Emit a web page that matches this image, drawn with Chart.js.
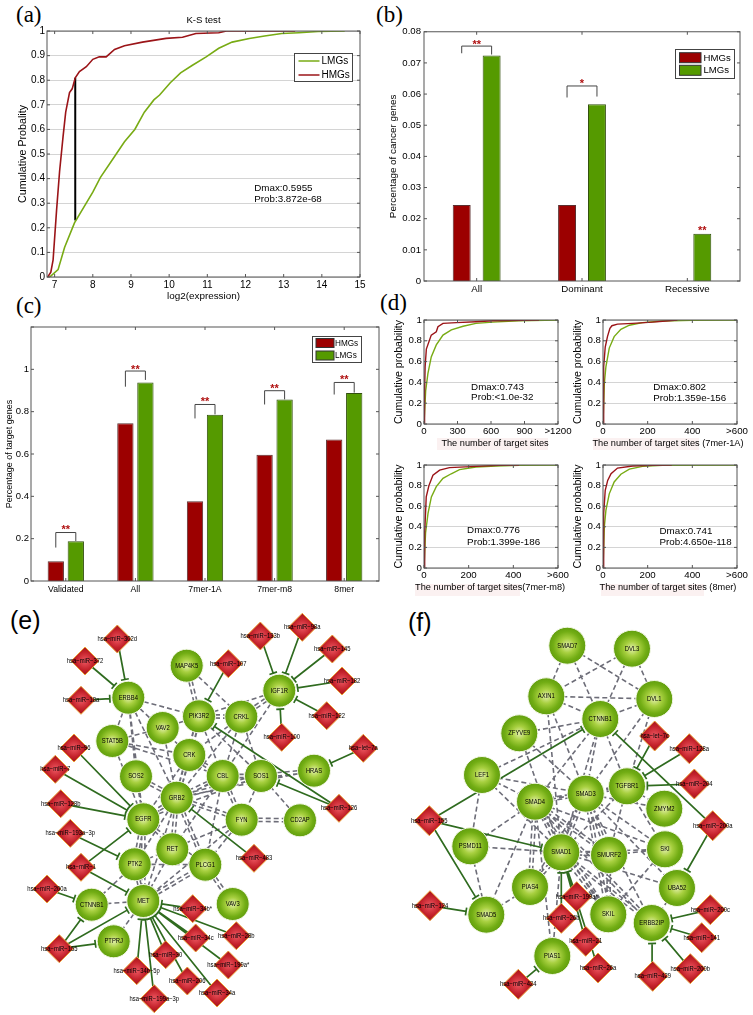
<!DOCTYPE html>
<html>
<head>
<meta charset="utf-8">
<title>Figure</title>
<script src="https://cdn.jsdelivr.net/npm/chart.js@4"></script>
<style>
	html, body { margin: 0; padding: 0; background: #fff; }
	#page { position: relative; width: 753px; height: 1015px; overflow: hidden; }
	#page canvas { position: absolute; }
	.tag { position: absolute; line-height: 1; color: #000; }
	.serif { font: 23px "Liberation Serif", serif; }
	.sans { font: 25px "Liberation Sans", sans-serif; }
	.hilite { position: absolute; background: #fbf1f1; }
</style>
</head>
<body>
<div id="page">
	<div class="hilite" style="left:437px;top:438px;width:111px;height:12px"></div>
	<div class="hilite" style="left:593px;top:438px;width:106px;height:12px"></div>
	<div class="hilite" style="left:415px;top:584px;width:105px;height:12px"></div>
	<div class="hilite" style="left:601px;top:584px;width:103px;height:12px"></div>
	<div class="tag serif" style="left:16px;top:2px">(a)</div>
	<div class="tag serif" style="left:376px;top:2px">(b)</div>
	<div class="tag serif" style="left:16px;top:293px">(c)</div>
	<div class="tag serif" style="left:380px;top:290px">(d)</div>
	<div class="tag sans" style="left:10px;top:606px">(e)</div>
	<div class="tag sans" style="left:408px;top:608px">(f)</div>
</div>
<script>
// panel (a)
const aLmgX = [6.87, 7.09, 7.26, 7.52, 8.0, 8.2, 8.57, 8.83, 9.1, 9.35, 9.6, 9.75, 10.03, 10.3, 10.6, 10.97, 11.3, 11.65, 12.1, 12.5, 12.95, 13.4, 13.9, 14.6];
const aLmgY = [0, 0.03, 0.12, 0.22, 0.345, 0.405, 0.49, 0.55, 0.6, 0.67, 0.72, 0.74, 0.79, 0.83, 0.86, 0.895, 0.93, 0.955, 0.97, 0.98, 0.99, 0.993, 0.998, 1];
const aHmgX = [6.82, 6.9, 6.96, 7.05, 7.13, 7.22, 7.29, 7.39, 7.46, 7.54, 7.65, 7.83, 8.0, 8.17, 8.35, 8.57, 8.83, 9.3, 9.92, 10.35, 10.7, 11.3, 11.5, 13.3];
const aHmgY = [0, 0.02, 0.07, 0.27, 0.43, 0.57, 0.67, 0.75, 0.765, 0.81, 0.835, 0.855, 0.885, 0.895, 0.895, 0.925, 0.94, 0.955, 0.97, 0.975, 0.99, 0.993, 1, 1];
const aDmaxX = [7.54, 7.54];
const aDmaxY = [0.23, 0.81];

// panel (b)
const bCats = ["All", "Dominant", "Recessive"];
const bHmg = [0.0244, 0.0244, 0];
const bLmg = [0.0724, 0.0567, 0.0152];
const bTop = [0.0754, 0.0626, null];
const bLowL = [0.0731, 0.0589, null];
const bLowR = [0.0727, 0.0592, null];
const bStarY = [0.0763, 0.064, 0.0167];
const bStars = ["**", "*", "**"];

// panel (c)
const cCats = ["Validated", "All", "7mer-1A", "7mer-m8", "8mer"];
const cHmg = [0.093, 0.745, 0.377, 0.597, 0.668];
const cLmg = [0.188, 0.938, 0.785, 0.858, 0.888];
const cTop = [0.229, 0.992, 0.834, 0.899, 0.938];
const cLowL = [0.158, 0.918, 0.768, 0.834, 0.881];
const cLowR = [0.189, 0.95, 0.787, 0.858, 0.89];
const cStarY = [0.249, 1.007, 0.856, 0.918, 0.957];
const cStars = ["**", "**", "**", "**", "**"];

// panel (d)
const d1HmgX = [0, 5, 10, 21, 65, 110, 125, 170, 290, 465, 615, 763, 1030];
const d1HmgY = [0, 0.3, 0.55, 0.72, 0.855, 0.887, 0.935, 0.968, 0.975, 0.983, 0.993, 0.994, 1];
const d1LmgX = [0, 15, 35, 65, 110, 170, 245, 350, 465, 615, 850, 1200];
const d1LmgY = [0, 0.32, 0.485, 0.645, 0.76, 0.855, 0.905, 0.94, 0.968, 0.98, 0.993, 1];
const d2HmgX = [0, 3, 10, 20, 31, 40, 65, 133, 222, 281, 333];
const d2HmgY = [0, 0.55, 0.74, 0.84, 0.92, 0.945, 0.96, 0.968, 0.98, 0.99, 1];
const d2LmgX = [0, 6, 13, 28, 50, 80, 118, 177, 266, 400, 600];
const d2LmgY = [0, 0.39, 0.55, 0.73, 0.84, 0.91, 0.95, 0.975, 0.99, 0.998, 1];
const d3HmgX = [0, 3, 10, 22, 40, 70, 114, 233, 337, 426];
const d3HmgY = [0, 0.34, 0.69, 0.8, 0.9, 0.95, 0.975, 0.987, 0.997, 1];
const d3LmgX = [0, 7, 18, 33, 55, 85, 122, 159, 233, 322, 426, 600];
const d3LmgY = [0, 0.34, 0.53, 0.69, 0.79, 0.87, 0.915, 0.955, 0.98, 0.99, 0.998, 1];
const d4HmgX = [0, 3, 10, 21, 36, 65, 133, 222, 308];
const d4HmgY = [0, 0.53, 0.755, 0.85, 0.915, 0.97, 0.99, 0.997, 1];
const d4LmgX = [0, 6, 13, 28, 50, 80, 118, 177, 266, 600];
const d4LmgY = [0, 0.4, 0.56, 0.72, 0.835, 0.91, 0.96, 0.987, 0.997, 1];

// panel (e), network laid out in picture units
const eGenes = ["ERBB4", "MAP4K5", "PIK3R2", "VAV2", "STAT5B", "CRK", "SOS2", "GRB2", "IGF1R", "CRKL", "CBL", "SOS1", "HRAS", "EGFR", "RET", "PTK2", "CTNNB1", "MET", "PTPRJ", "PLCG1", "FYN", "CD2AP", "VAV3"];
const eGeneX = [128.3, 186.7, 199, 162.7, 112.3, 189.3, 136, 176.7, 279.3, 241.3, 222.7, 261, 314, 143.3, 172.3, 134.7, 91.7, 143.3, 113.7, 205.3, 241.7, 300, 232.7];
const eGeneY = [697.7, 665.7, 716.3, 728, 741, 755, 776.3, 797.7, 690.7, 716.7, 776, 776, 770.7, 819.3, 849.3, 864.3, 904.7, 901, 941.3, 864.7, 819.7, 820.3, 904];
const eMirs = ["miR-302d", "miR-372", "miR-18a", "miR-96", "miR-7", "miR-128b", "miR-107", "miR-133b", "miR-98a", "miR-145", "miR-182", "miR-122", "miR-100", "let-7a", "miR-126", "miR-193a-3p", "miR-1", "miR-200a", "miR-155", "miR-34b-5p", "miR-199a-3p", "miR-30", "miR-206", "miR-483", "miR-34b*", "miR-34c", "miR-28b", "miR-199a*", "miR-34a"];
const eMirX = [117.3, 85, 81, 74, 55.3, 60.7, 228.3, 260.3, 302.3, 332.3, 342, 326.7, 281.7, 363.3, 339, 70.3, 81, 47, 59.3, 136.7, 154.3, 165.7, 187.3, 254, 192.7, 195.7, 236.3, 228.3, 217];
const eMirY = [639, 661, 700.3, 748, 769.3, 803.7, 663.7, 636, 627.3, 649, 681, 715.7, 737.3, 748.3, 808.3, 833.3, 867.3, 889, 948.7, 970.7, 998.7, 954.7, 981, 858.3, 908.7, 938, 935.7, 965, 993];
const eLinks = [
	["miR-302d", "ERBB4"], ["miR-372", "ERBB4"], ["miR-18a", "ERBB4"], ["miR-96", "EGFR"], ["miR-7", "EGFR"],
	["miR-128b", "EGFR"], ["miR-193a-3p", "PTK2"], ["miR-1", "EGFR"], ["miR-1", "MET"], ["miR-200a", "CTNNB1"],
	["miR-155", "CTNNB1"], ["miR-155", "MET"], ["miR-155", "PTPRJ"], ["miR-34b-5p", "MET"], ["miR-199a-3p", "MET"],
	["miR-30", "MET"], ["miR-206", "MET"], ["miR-34a", "MET"], ["miR-199a*", "MET"], ["miR-28b", "MET"],
	["miR-34b*", "MET"], ["miR-34c", "MET"], ["miR-107", "PIK3R2"], ["miR-133b", "IGF1R"], ["miR-98a", "IGF1R"],
	["miR-145", "IGF1R"], ["miR-182", "IGF1R"], ["miR-122", "IGF1R"], ["miR-100", "IGF1R"], ["let-7a", "HRAS"],
	["miR-126", "PIK3R2"], ["miR-126", "SOS1"], ["miR-483", "GRB2"]
];
const ePpi = [
	["ERBB4", "PIK3R2"], ["ERBB4", "STAT5B"], ["ERBB4", "SOS2"], ["ERBB4", "CRK"], ["ERBB4", "GRB2"], ["ERBB4", "EGFR"],
	["MAP4K5", "CRKL"], ["IGF1R", "PIK3R2"], ["IGF1R", "CBL"], ["PIK3R2", "VAV2"], ["PIK3R2", "CBL"], ["PIK3R2", "SOS1"],
	["CRKL", "CRK"], ["CRKL", "GRB2"], ["CRKL", "CBL"], ["CRKL", "SOS1"], ["VAV2", "STAT5B"], ["VAV2", "GRB2"],
	["STAT5B", "CRK"], ["STAT5B", "CBL"], ["STAT5B", "EGFR"], ["SOS2", "EGFR"], ["CRK", "EGFR"], ["CBL", "EGFR"],
	["CBL", "PLCG1"], ["CBL", "RET"], ["SOS1", "EGFR"], ["SOS1", "FYN"], ["GRB2", "PTK2"], ["GRB2", "MET"],
	["FYN", "PLCG1"], ["FYN", "MET"], ["FYN", "PTK2"], ["EGFR", "RET"], ["EGFR", "PLCG1"], ["RET", "MET"],
	["PTK2", "PLCG1"], ["PTK2", "CTNNB1"], ["MET", "CTNNB1"], ["MET", "PTPRJ"], ["HRAS", "GRB2"], ["CD2AP", "SOS1"]
];
const ePpiDouble = [
	["MAP4K5", "PIK3R2"], ["IGF1R", "CRKL"], ["PIK3R2", "CRKL"], ["PIK3R2", "CRK"], ["PIK3R2", "GRB2"], ["SOS2", "GRB2"],
	["CRK", "GRB2"], ["CRK", "CBL"], ["CBL", "GRB2"], ["CBL", "SOS1"], ["CBL", "FYN"], ["SOS1", "GRB2"], ["SOS1", "HRAS"],
	["GRB2", "EGFR"], ["GRB2", "RET"], ["GRB2", "PLCG1"], ["GRB2", "FYN"], ["FYN", "CD2AP"], ["EGFR", "PTK2"],
	["EGFR", "MET"], ["PTK2", "MET"], ["MET", "PLCG1"], ["PLCG1", "VAV3"]
];

// panel (f)
const fGenes = ["SMAD7", "DVL3", "AXIN1", "DVL1", "ZFYVE9", "CTNNB1", "LEF1", "SMAD4", "SMAD3", "TGFBR1", "ZMYM2", "PSMD11", "SMAD1", "SMURF2", "SKI", "PIAS4", "UBA52", "SMAD5", "SKIL", "ERBB2IP", "PIAS1"];
const fGeneX = [567.3, 632, 546.3, 654.3, 519.3, 600.3, 482, 535, 585.7, 627, 664.3, 470.3, 561.3, 609, 665, 530, 677, 486.3, 608.3, 651.7, 552.3];
const fGeneY = [645.7, 648.7, 696.3, 699, 733.3, 719, 775, 801.7, 793.7, 786.3, 808.7, 846.3, 852.3, 855, 849.3, 887, 888, 914.7, 914.3, 923, 956];
const fMirs = ["let-7c", "miR-128a", "miR-204", "miR-155", "miR-200a", "miR-124", "miR-199a*", "miR-26b", "miR-21", "miR-26a", "miR-424", "miR-200c", "miR-141", "miR-200b", "miR-429"];
const fMirX = [654.7, 689.3, 694.3, 429.3, 712.7, 430, 576.7, 561.3, 585.7, 598, 518.3, 710.3, 701.7, 690.3, 652.7];
const fMirY = [736, 748.7, 784, 820.7, 825.7, 905.7, 896.7, 918.3, 941.3, 968, 984.3, 909.7, 937.7, 968.7, 976.3];
const fLinks = [
	["let-7c", "TGFBR1"], ["miR-128a", "TGFBR1"], ["miR-204", "TGFBR1"], ["miR-155", "CTNNB1"], ["miR-155", "SMAD1"],
	["miR-155", "SMAD5"], ["miR-124", "SMAD5"], ["miR-424", "PIAS1"], ["miR-200a", "CTNNB1"], ["miR-200a", "UBA52"],
	["miR-200c", "ERBB2IP"], ["miR-141", "ERBB2IP"], ["miR-200b", "ERBB2IP"], ["miR-429", "ERBB2IP"], ["miR-199a*", "SMAD1"],
	["miR-26b", "SMAD1"], ["miR-21", "SMAD1"], ["miR-26a", "SMAD1"]
];
const fPpi = [
	["SMAD7", "AXIN1"], ["SMAD7", "CTNNB1"], ["SMAD7", "DVL1"], ["DVL3", "AXIN1"], ["DVL3", "CTNNB1"], ["DVL3", "DVL1"],
	["AXIN1", "DVL1"], ["AXIN1", "CTNNB1"], ["AXIN1", "SMAD3"], ["AXIN1", "SMAD1"], ["ZFYVE9", "CTNNB1"], ["ZFYVE9", "SMAD3"],
	["ZFYVE9", "SMAD1"], ["LEF1", "CTNNB1"], ["LEF1", "SMAD4"], ["LEF1", "SMAD3"], ["LEF1", "SMAD1"], ["LEF1", "PSMD11"],
	["DVL1", "CTNNB1"], ["DVL1", "TGFBR1"], ["DVL1", "SMAD3"], ["CTNNB1", "SMAD3"], ["CTNNB1", "SMAD4"], ["CTNNB1", "TGFBR1"],
	["CTNNB1", "SMAD1"], ["TGFBR1", "SMAD4"], ["TGFBR1", "ZMYM2"], ["TGFBR1", "SMAD1"], ["TGFBR1", "SMURF2"], ["TGFBR1", "SKI"],
	["SMAD3", "SKI"], ["SMAD3", "ZMYM2"], ["SMAD3", "PIAS4"], ["SMAD3", "UBA52"], ["SMAD3", "ERBB2IP"], ["SMAD4", "PSMD11"],
	["SMAD4", "SKI"], ["SMAD4", "SMAD5"], ["SMAD4", "PIAS1"], ["SMAD1", "PSMD11"], ["SMAD1", "SKI"], ["SMAD1", "PIAS1"],
	["SMAD1", "UBA52"], ["PSMD11", "SMAD5"], ["PIAS4", "SMAD5"], ["SMURF2", "SKI"], ["SKIL", "SKI"], ["UBA52", "ERBB2IP"]
];
const fPpiDouble = [
	["TGFBR1", "SMAD3"], ["SMAD3", "SMAD4"], ["SMAD3", "SMAD1"], ["SMAD3", "SMURF2"], ["SMAD3", "SKIL"], ["SMAD4", "SMAD1"],
	["SMAD4", "SMURF2"], ["SMAD4", "PIAS4"], ["SMAD4", "SKIL"], ["SMAD4", "ERBB2IP"], ["SMAD1", "PIAS4"], ["SMAD1", "SMURF2"],
	["SMAD1", "SKIL"], ["SMAD1", "ERBB2IP"], ["SMURF2", "SKIL"]
];

const dTitles = ["The number of target sites", "The number of target sites (7mer-1A)", "The number of target sites(7mer-m8)", "The number of target sites (8mer)"];

const RED = "#9b1418", GREEN = "#78ab14", BAR_RED = "#9c0000", BAR_GREEN = "#559a00";
Chart.defaults.font.family = '"Liberation Sans", Arial, sans-serif';
Chart.defaults.color = "#000";
Chart.defaults.animation = false;

function zip(xs, ys) {
	return xs.map((x, i) => ({ x: x, y: ys[i] }));
}

// box and inward ticks, the way Matlab draws its axes
const frame = {
	id: "frame",
	afterDraw(chart) {
		const { ctx, chartArea: a, scales } = chart;
		ctx.save();
		ctx.strokeStyle = "#555";
		ctx.lineWidth = 1;
		ctx.strokeRect(a.left, a.top, a.right - a.left, a.bottom - a.top);
		ctx.beginPath();
		scales.x.ticks.forEach((t, i) => {
			const p = scales.x.getPixelForTick(i);
			ctx.moveTo(p, a.top); ctx.lineTo(p, a.top + 3);
			ctx.moveTo(p, a.bottom); ctx.lineTo(p, a.bottom - 3);
		});
		scales.y.ticks.forEach((t, i) => {
			const p = scales.y.getPixelForTick(i);
			ctx.moveTo(a.left, p); ctx.lineTo(a.left + 3, p);
			ctx.moveTo(a.right, p); ctx.lineTo(a.right - 3, p);
		});
		ctx.stroke();
		ctx.restore();
	}
};

const notes = {
	id: "notes",
	afterDraw(chart, args, opts) {
		const { ctx, scales, chartArea } = chart;
		ctx.save();
		ctx.fillStyle = "#000";
		ctx.font = `${opts.size}px "Liberation Sans"`;
		ctx.textBaseline = "middle";
		(opts.lines || []).forEach(l => ctx.fillText(l[2], scales.x.getPixelForValue(l[0]), scales.y.getPixelForValue(l[1])));
		// x label of panel (d) is wider than its axes, so it is not the scale title
		if (opts.under) {
			ctx.font = `${opts.underSize}px "Liberation Sans"`;
			ctx.textAlign = "center";
			ctx.fillText(opts.under, scales.x.getPixelForValue(opts.underX), chartArea.bottom + 19);
		}
		ctx.restore();
	}
};

// significance brackets over the bars
const brackets = {
	id: "brackets",
	afterDraw(chart, args, opts) {
		if (!opts.stars) return;
		const { ctx, scales } = chart;
		const m0 = chart.getDatasetMeta(0), m1 = chart.getDatasetMeta(1);
		ctx.save();
		opts.stars.forEach((s, i) => {
			const xl = m0.data[i].x, xr = m1.data[i].x;
			if (opts.top[i] !== null) {
				ctx.strokeStyle = "#444";
				ctx.lineWidth = 1;
				ctx.beginPath();
				ctx.moveTo(xl, scales.y.getPixelForValue(opts.lowL[i]));
				ctx.lineTo(xl, scales.y.getPixelForValue(opts.top[i]));
				ctx.lineTo(xr, scales.y.getPixelForValue(opts.top[i]));
				ctx.lineTo(xr, scales.y.getPixelForValue(opts.lowR[i]));
				ctx.stroke();
			}
			ctx.fillStyle = "#b01010";
			ctx.font = 'bold 11px "Liberation Sans"';
			ctx.textAlign = "center";
			ctx.textBaseline = "middle";
			const x = opts.top[i] !== null ? (xl + xr) / 2 : xr;
			ctx.fillText(s, x, scales.y.getPixelForValue(opts.starY[i]) + 2);
		});
		ctx.restore();
	}
};

// legend box placed inside the axes; labels and colours come from the datasets
const legendBox = {
	id: "legendBox",
	afterDraw(chart, args, opts) {
		if (!opts.box) return;
		const { ctx } = chart;
		const cv = chart.canvas.getBoundingClientRect();
		const page = chart.canvas.parentNode.getBoundingClientRect();
		const ox = cv.left - page.left, oy = cv.top - page.top;
		const [x0, y0, x1, y1] = opts.box;
		ctx.save();
		ctx.translate(-ox, -oy);
		ctx.fillStyle = "#fff";
		ctx.fillRect(x0, y0, x1 - x0, y1 - y0);
		ctx.strokeStyle = "#444";
		ctx.strokeRect(x0, y0, x1 - x0, y1 - y0);
		opts.order.forEach((d, i) => {
			const ds = chart.data.datasets[d];
			const yc = opts.rowY[i];
			if (opts.lines) {
				ctx.strokeStyle = ds.borderColor;
				ctx.lineWidth = 1.5;
				ctx.beginPath();
				ctx.moveTo(opts.swatch[0], yc);
				ctx.lineTo(opts.swatch[1], yc);
				ctx.stroke();
			} else {
				ctx.fillStyle = ds.backgroundColor;
				ctx.fillRect(opts.swatch[0], yc - opts.swatchH / 2, opts.swatch[1] - opts.swatch[0], opts.swatchH);
				ctx.strokeStyle = "#333";
				ctx.lineWidth = 1;
				ctx.strokeRect(opts.swatch[0], yc - opts.swatchH / 2, opts.swatch[1] - opts.swatch[0], opts.swatchH);
			}
			ctx.fillStyle = "#000";
			ctx.font = `${opts.size}px "Liberation Sans"`;
			ctx.textBaseline = "middle";
			ctx.fillText(ds.label, opts.textX, yc + 0.5);
		});
		ctx.restore();
	}
};

// plot rectangle is given in page pixels, margins hold the axes
function addChart(plot, m, config) {
	const [L, T, R, B] = plot;
	const c = document.createElement("canvas");
	const w = Math.round(R - L + m.l + m.r), h = Math.round(B - T + m.t + m.b);
	c.width = w; c.height = h;
	c.style.cssText = `left:${L - m.l}px;top:${T - m.t}px;width:${w}px;height:${h}px`;
	document.getElementById("page").appendChild(c);
	const o = config.options;
	o.responsive = false;
	o.events = [];
	o.layout = { padding: { top: o.plugins.title ? 0 : m.t, right: m.r, left: 0, bottom: 0 } };
	o.scales.x.afterFit = s => { s.height = m.b; };
	o.scales.y.afterFit = s => { s.width = m.l; };
	o.plugins.legend = { display: false };
	o.plugins.tooltip = { enabled: false };
	config.plugins = [frame, notes, brackets, legendBox];
	return new Chart(c, config);
}

function curve(label, color, xs, ys, width) {
	return { label: label, data: zip(xs, ys), showLine: true, pointRadius: 0, borderColor: color, borderWidth: width, tension: 0 };
}

function plain(v) {
	return String(+Number(v).toFixed(2));
}

// panel (a)
addChart([47, 31, 360, 277], { l: 30, t: 24, r: 16, b: 25 }, {
	type: "scatter",
	data: {
		datasets: [
			curve("LMGs", GREEN, aLmgX, aLmgY, 1.6),
			curve("HMGs", RED, aHmgX, aHmgY, 1.6),
			curve("Dmax", "#000", aDmaxX, aDmaxY, 2)
		]
	},
	options: {
		plugins: {
			title: { display: true, text: "K-S test", fullSize: false, font: { size: 9.6, weight: "normal", lineHeight: 1.15 }, padding: { top: 8, bottom: 5 } },
			notes: { size: 9.8, lines: [[12.23, 0.362, "Dmax:0.5955"], [12.23, 0.316, "Prob:3.872e-68"]] },
			legendBox: { box: [294.5, 53.5, 352.5, 81.5], order: [0, 1], lines: true, swatch: [298.5, 319.5], rowY: [61, 75], textX: 321.5, size: 10 }
		},
		scales: {
			x: {
				type: "linear", min: 6.8, max: 15, grid: { display: false, drawTicks: false }, border: { display: false },
				ticks: { stepSize: 1, includeBounds: false, padding: 2, font: { size: 10 }, callback: plain },
				title: { display: true, text: "log2(expression)", padding: 0, font: { size: 9.9 } }
			},
			y: {
				min: 0, max: 1, grid: { color: "#d4d4d4", drawTicks: false }, border: { display: false },
				ticks: { stepSize: 0.1, padding: 2, font: { size: 10 }, callback: plain },
				title: { display: true, text: "Cumulative Probality", padding: 0, font: { size: 10.7 } }
			}
		}
	}
});

function barChart(plot, m, cats, hmg, lmg, bars, yOpts, yTitle, titleSize, tickSize, extra) {
	return addChart(plot, m, {
		type: "bar",
		data: {
			labels: cats,
			datasets: [
				{ label: "HMGs", data: hmg, backgroundColor: BAR_RED, borderColor: "#5a3030", borderWidth: 1, categoryPercentage: bars[0], barPercentage: bars[1] },
				{ label: "LMGs", data: lmg, backgroundColor: BAR_GREEN, borderColor: "#33500f", borderWidth: 1, categoryPercentage: bars[0], barPercentage: bars[1] }
			]
		},
		options: {
			plugins: extra,
			scales: {
				x: {
					grid: { display: false, drawTicks: false }, border: { display: false },
					ticks: { padding: 3, autoSkip: false, maxRotation: 0, font: { size: tickSize } }
				},
				y: Object.assign({
					min: 0, grid: { display: false, drawTicks: false }, border: { display: false },
					title: { display: true, text: yTitle, padding: 0, font: { size: titleSize } }
				}, yOpts)
			}
		}
	});
}

// panel (b)
barChart([424, 31, 740, 281], { l: 37, t: 8, r: 10, b: 20 }, bCats, bHmg, bLmg, [0.568, 0.6],
	{ max: 0.08, ticks: { stepSize: 0.01, padding: 3, font: { size: 9.6 }, callback: plain } },
	"Percentage of cancer genes", 9.9, 9.7, {
		brackets: { top: bTop, lowL: bLowL, lowR: bLowR, starY: bStarY, stars: bStars },
		legendBox: { box: [675.5, 49.5, 734.5, 78.5], order: [0, 1], swatch: [679.5, 701], swatchH: 10, rowY: [57.7, 70.3], textX: 703.5, size: 9.6 }
	});

// panel (c)
barChart([31, 327, 379, 581], { l: 27, t: 8, r: 6, b: 20 }, cCats, cHmg, cLmg, [0.575, 0.815],
	{ max: 1.2, ticks: { stepSize: 0.2, padding: 2, font: { size: 9.5 }, callback: v => (v > 1.1 ? "" : plain(v)) } },
	"Percentage of target genes", 9, 8.7, {
		brackets: { top: cTop, lowL: cLowL, lowR: cLowR, starY: cStarY, stars: cStars },
		legendBox: { box: [312.5, 336.5, 361.5, 362.5], order: [0, 1], swatch: [316, 334], swatchH: 9, rowY: [343, 355.5], textX: 335, size: 8.2 }
	});

// panel (d)
function cdfChart(plot, hmg, lmg, maxX, step, titleX, titleAt, noteLines) {
	addChart(plot, { l: 31, t: 8, r: 16, b: 26 }, {
		type: "scatter",
		data: {
			datasets: [
				curve("HMGs", RED, hmg[0], hmg[1], 1.4),
				curve("LMGs", GREEN, lmg[0], lmg[1], 1.4)
			]
		},
		options: {
			plugins: { notes: { size: 9.8, lines: noteLines, under: titleX, underX: titleAt, underSize: 9.2 } },
			scales: {
				x: {
					type: "linear", min: 0, max: maxX, grid: { display: false, drawTicks: false }, border: { display: false },
					ticks: { stepSize: step, padding: 2, maxRotation: 0, autoSkip: false, font: { size: 9.7 }, callback: v => (v === maxX ? ">" + v : plain(v)) }
				},
				y: {
					min: 0, max: 1, grid: { color: "#d4d4d4", drawTicks: false }, border: { display: false },
					ticks: { stepSize: 0.2, padding: 2, font: { size: 9.7 }, callback: plain },
					title: { display: true, text: "Cumulative probability", padding: 0, font: { size: 10.6 } }
				}
			}
		}
	});
}
cdfChart([424, 320, 558, 424], [d1HmgX, d1HmgY], [d1LmgX, d1LmgY], 1200, 300, dTitles[0], 636, [[422, 0.357, "Dmax:0.743"], [422, 0.254, "Prob:<1.0e-32"]]);
cdfChart([603, 320, 737, 424], [d2HmgX, d2HmgY], [d2LmgX, d2LmgY], 600, 200, dTitles[1], 291, [[225, 0.35, "Dmax:0.802"], [225, 0.244, "Prob:1.359e-156"]]);
cdfChart([424, 465, 558, 568], [d3HmgX, d3HmgY], [d3LmgX, d3LmgY], 600, 200, dTitles[2], 296, [[193, 0.363, "Dmax:0.776"], [193, 0.254, "Prob:1.399e-186"]]);
cdfChart([603, 465, 737, 568], [d4HmgX, d4HmgY], [d4LmgX, d4LmgY], 600, 200, dTitles[3], 291, [[253, 0.357, "Dmax:0.741"], [253, 0.25, "Prob:4.650e-118"]]);

// networks (e) and (f) share one chart
function positions(names, xs, ys, pos) {
	names.forEach((n, i) => { pos[n] = { x: xs[i], y: ys[i] }; });
	return pos;
}

function dashedPath(pairs, doubles, pos) {
	const pts = [];
	pairs.forEach(p => pts.push(pos[p[0]], pos[p[1]], { x: null, y: null }));
	doubles.forEach(p => {
		const a = pos[p[0]], b = pos[p[1]];
		const len = Math.hypot(b.x - a.x, b.y - a.y);
		const nx = -(b.y - a.y) / len * 1.6, ny = (b.x - a.x) / len * 1.6;
		[1, -1].forEach(s => pts.push({ x: a.x + s * nx, y: a.y + s * ny }, { x: b.x + s * nx, y: b.y + s * ny }, { x: null, y: null }));
	});
	return pts;
}

// solid link with the inhibition bar in front of the target gene
function linkPath(pairs, pos, radius) {
	const pts = [];
	pairs.forEach(p => {
		const a = pos[p[0]], b = pos[p[1]];
		const len = Math.hypot(a.x - b.x, a.y - b.y);
		const ux = (a.x - b.x) / len, uy = (a.y - b.y) / len;
		const cx = b.x + ux * (radius + 2), cy = b.y + uy * (radius + 2);
		pts.push(a, { x: cx, y: cy }, { x: null, y: null });
		pts.push({ x: cx - uy * 4, y: cy + ux * 4 }, { x: cx + uy * 4, y: cy - ux * 4 }, { x: null, y: null });
	});
	return pts;
}

function nodeFill(stops) {
	return function (c) {
		const flat = stops[2][1];
		// chart.js also resolves this before the scales are laid out
		if (!c.raw) return flat;
		const { x: sx, y: sy } = c.chart.scales;
		const r = c.dataset.pointRadius;
		const px = sx.getPixelForValue(c.raw.x), py = sy.getPixelForValue(c.raw.y);
		if (!isFinite(px) || !isFinite(py)) return flat;
		const g = c.chart.ctx.createRadialGradient(px, py, 1, px, py, r);
		stops.forEach(s => g.addColorStop(s[0], s[1]));
		return g;
	};
}
const geneFill = nodeFill([[0, "#dcec9e"], [0.35, "#a8d040"], [0.75, "#72ad14"], [1, "#619e0e"]]);
const mirFill = nodeFill([[0, "#e9525c"], [0.6, "#c4222b"], [1, "#a3151a"]]);

function geneSet(names, xs, ys, r) {
	return { names: names, data: zip(xs, ys), pointStyle: "circle", pointRadius: r, backgroundColor: geneFill, borderColor: "#f4f8e8", borderWidth: 1, order: 1 };
}
function mirSet(names, xs, ys, r) {
	return { names: names.map(n => "hsa-" + n), data: zip(xs, ys), pointStyle: "rectRot", pointRadius: r, backgroundColor: mirFill, borderColor: "#eda23a", borderWidth: 1, order: 1 };
}
function ppiSet(data) {
	return { data: data, showLine: true, pointRadius: 0, borderColor: "#6d6d78", borderWidth: 1.6, borderDash: [5, 3], order: 3 };
}
function linkSet(data) {
	return { data: data, showLine: true, pointRadius: 0, borderColor: "#2f6b1f", borderWidth: 1.7, order: 2 };
}

// the labels in the figure are set in a condensed face, so the text is squeezed a little
const nodeLabels = {
	id: "nodeLabels",
	afterDatasetsDraw(chart) {
		const { ctx, scales } = chart;
		ctx.save();
		ctx.fillStyle = "#000";
		ctx.font = '6.8px "Liberation Sans"';
		ctx.textAlign = "center";
		ctx.textBaseline = "middle";
		chart.data.datasets.forEach(ds => {
			if (!ds.names) return;
			ds.names.forEach((n, i) => {
				const text = n.replace(/-/g, "\u2212");
				ctx.fillText(text, scales.x.getPixelForValue(ds.data[i].x), scales.y.getPixelForValue(ds.data[i].y), ctx.measureText(text).width * 0.86);
			});
		});
		ctx.restore();
	}
};

const ePos = positions(eMirs, eMirX, eMirY, positions(eGenes, eGeneX, eGeneY, {}));
const fPos = positions(fMirs, fMirX, fMirY, positions(fGenes, fGeneX, fGeneY, {}));
const netCanvas = document.createElement("canvas");
netCanvas.width = 753; netCanvas.height = 415;
netCanvas.style.cssText = "left:0;top:600px;width:753px;height:415px";
document.getElementById("page").appendChild(netCanvas);
new Chart(netCanvas, {
	type: "scatter",
	data: {
		datasets: [
			geneSet(eGenes, eGeneX, eGeneY, 16.5),
			mirSet(eMirs, eMirX, eMirY, 14),
			geneSet(fGenes, fGeneX, fGeneY, 18.5),
			mirSet(fMirs, fMirX, fMirY, 15),
			linkSet(linkPath(eLinks, ePos, 16.5)),
			linkSet(linkPath(fLinks, fPos, 18.5)),
			ppiSet(dashedPath(ePpi, ePpiDouble, ePos)),
			ppiSet(dashedPath(fPpi, fPpiDouble, fPos))
		]
	},
	options: {
		responsive: false,
		events: [],
		layout: { padding: 0, autoPadding: false },
		plugins: { legend: { display: false }, tooltip: { enabled: false } },
		scales: {
			x: { type: "linear", min: 0, max: 753, display: false },
			y: { type: "linear", min: 600, max: 1015, reverse: true, display: false }
		}
	},
	plugins: [nodeLabels]
});
</script>
</body>
</html>
